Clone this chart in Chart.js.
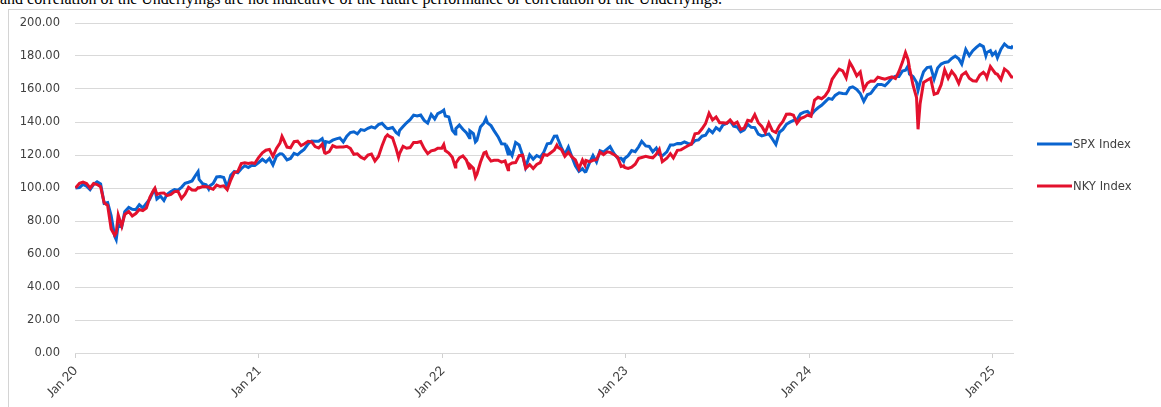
<!DOCTYPE html>
<html>
<head>
<meta charset="utf-8">
<script src="https://cdn.jsdelivr.net/npm/chart.js@4.4.1/dist/chart.umd.min.js"></script>
<style>
  html, body { margin: 0; padding: 0; background: #ffffff; overflow: hidden; }
  body { width: 1161px; height: 407px; position: relative; }
  #caption { position: absolute; left: 0; top: -9px; font-family: "Liberation Serif", "Times New Roman", serif; font-size: 16px; line-height: 16px; color: #000; white-space: nowrap; }
  #frame { position: absolute; left: 8px; top: 9px; width: 1200px; height: 450px; border-left: 1px solid #d4d4d4; border-top: 1px solid #d4d4d4; }
  #c { position: absolute; left: 0; top: 0; }
</style>
</head>
<body>
<div id="caption">and correlation of the Underlyings are not indicative of the future performance or correlation of the Underlyings.</div>
<div id="frame"></div>
<canvas id="c" width="1161" height="407"></canvas>
<script>
// ---- data (rebased to 100) ----
const seriesNames = ["SPX Index", "NKY Index"];
const tickDates = ["2020-01-01", "2021-01-01", "2022-01-01", "2023-01-01", "2024-01-01", "2025-01-01"];
const tickLabels = ["Jan 20", "Jan 21", "Jan 22", "Jan 23", "Jan 24", "Jan 25"];
const rangeEnd = "2025-02-10";

const dates = [
"2020-01-02","2020-01-10","2020-01-17","2020-01-24","2020-01-31","2020-02-07","2020-02-14","2020-02-21","2020-02-28","2020-03-06",
"2020-03-13","2020-03-20","2020-03-23","2020-03-27","2020-04-03","2020-04-09","2020-04-17","2020-04-24","2020-05-01","2020-05-08",
"2020-05-15","2020-05-22","2020-05-29","2020-06-05","2020-06-08","2020-06-12","2020-06-19","2020-06-26","2020-07-02","2020-07-10",
"2020-07-17","2020-07-24","2020-07-31","2020-08-07","2020-08-14","2020-08-21","2020-08-28","2020-09-02","2020-09-04","2020-09-11",
"2020-09-18","2020-09-23","2020-09-25","2020-10-02","2020-10-09","2020-10-16","2020-10-23","2020-10-30","2020-11-06","2020-11-13",
"2020-11-20","2020-11-27","2020-12-04","2020-12-11","2020-12-18","2020-12-24","2020-12-31",
"2021-01-08","2021-01-15","2021-01-22","2021-01-29","2021-02-05","2021-02-12","2021-02-16","2021-02-19","2021-02-26","2021-03-05",
"2021-03-12","2021-03-19","2021-03-26","2021-04-01","2021-04-09","2021-04-16","2021-04-23","2021-04-30","2021-05-07","2021-05-12",
"2021-05-14","2021-05-21","2021-05-28","2021-06-04","2021-06-11","2021-06-18","2021-06-25","2021-07-02","2021-07-09","2021-07-16",
"2021-07-23","2021-07-30","2021-08-06","2021-08-13","2021-08-20","2021-08-27","2021-09-03","2021-09-10","2021-09-14","2021-09-17",
"2021-09-24","2021-10-01","2021-10-06","2021-10-08","2021-10-15","2021-10-22","2021-10-29","2021-11-05","2021-11-12","2021-11-19",
"2021-11-26","2021-12-03","2021-12-10","2021-12-17","2021-12-23","2021-12-31",
"2022-01-04","2022-01-07","2022-01-14","2022-01-21","2022-01-27","2022-01-28","2022-02-04","2022-02-11","2022-02-18","2022-02-24",
"2022-02-25","2022-03-04","2022-03-08","2022-03-11","2022-03-18","2022-03-25","2022-03-29","2022-04-01","2022-04-08","2022-04-14",
"2022-04-22","2022-04-29","2022-05-06","2022-05-12","2022-05-13","2022-05-20","2022-05-27","2022-06-03","2022-06-10","2022-06-16",
"2022-06-24","2022-07-01","2022-07-08","2022-07-15","2022-07-22","2022-07-29","2022-08-05","2022-08-12","2022-08-17","2022-08-19",
"2022-08-26","2022-09-02","2022-09-09","2022-09-16","2022-09-23","2022-09-30","2022-10-07","2022-10-12","2022-10-14","2022-10-21",
"2022-10-28","2022-11-04","2022-11-11","2022-11-18","2022-11-25","2022-12-01","2022-12-09","2022-12-16","2022-12-23","2022-12-28",
"2022-12-30",
"2023-01-06","2023-01-13","2023-01-20","2023-01-27","2023-02-02","2023-02-10","2023-02-17","2023-02-24","2023-03-03","2023-03-09",
"2023-03-15","2023-03-24","2023-03-31","2023-04-06","2023-04-14","2023-04-21","2023-04-28","2023-05-05","2023-05-12","2023-05-19",
"2023-05-26","2023-06-02","2023-06-09","2023-06-16","2023-06-23","2023-06-30","2023-07-07","2023-07-14","2023-07-21","2023-07-28",
"2023-08-04","2023-08-11","2023-08-18","2023-08-25","2023-09-01","2023-09-08","2023-09-15","2023-09-22","2023-09-29","2023-10-06",
"2023-10-13","2023-10-20","2023-10-27","2023-11-03","2023-11-10","2023-11-17","2023-11-24","2023-12-01","2023-12-08","2023-12-15",
"2023-12-22","2023-12-29",
"2024-01-05","2024-01-12","2024-01-19","2024-01-26","2024-02-02","2024-02-09","2024-02-16","2024-02-22","2024-03-01","2024-03-08",
"2024-03-15","2024-03-22","2024-03-28","2024-04-05","2024-04-12","2024-04-19","2024-04-26","2024-05-03","2024-05-10","2024-05-17",
"2024-05-24","2024-05-31","2024-06-07","2024-06-14","2024-06-21","2024-06-28","2024-07-05","2024-07-11","2024-07-16","2024-07-19",
"2024-07-26","2024-08-02","2024-08-05","2024-08-09","2024-08-16","2024-08-23","2024-08-30","2024-09-06","2024-09-13","2024-09-20",
"2024-09-27","2024-10-04","2024-10-11","2024-10-18","2024-10-25","2024-10-31","2024-11-08","2024-11-15","2024-11-22","2024-11-29",
"2024-12-06","2024-12-13","2024-12-18","2024-12-20","2024-12-27","2024-12-31",
"2025-01-06","2025-01-10","2025-01-17","2025-01-24","2025-01-31","2025-02-07","2025-02-10"
];

const spxValues = [
100.0,100.2,102.2,101.1,99.0,102.2,103.7,102.5,90.7,91.2,
83.2,70.7,68.7,78.0,76.4,85.6,88.2,87.1,86.9,89.9,
87.9,90.7,93.4,98.0,99.2,93.3,95.1,92.4,96.1,97.8,
99.0,98.7,100.4,102.9,103.5,104.3,107.7,109.9,105.2,102.6,
101.9,99.4,101.2,102.8,106.7,106.9,106.4,100.4,107.7,110.0,
109.2,111.7,113.5,112.4,113.8,113.7,115.3,
117.4,115.7,117.9,114.0,119.3,120.8,120.7,119.9,117.0,117.9,
121.0,120.1,122.0,123.4,126.7,128.5,128.3,128.3,129.9,124.7,
128.1,127.6,129.0,129.8,130.4,127.9,131.4,133.6,134.1,132.8,
135.4,134.9,136.2,137.1,136.3,138.4,139.2,136.9,136.0,136.1,
136.7,133.7,132.5,134.8,137.2,139.5,141.4,144.2,143.7,144.2,
141.0,139.3,144.6,141.8,145.1,146.3,
147.2,143.6,143.1,135.0,132.8,136.0,138.2,135.6,133.5,130.5,
134.6,132.9,128.0,129.0,137.0,139.4,142.1,139.5,137.8,134.8,
131.1,126.8,126.6,120.6,123.5,119.7,127.6,126.1,119.7,112.6,
120.1,117.4,119.7,118.6,121.6,126.8,127.2,131.4,131.5,129.8,
124.6,120.4,124.8,118.9,113.4,110.1,111.7,109.8,110.0,115.2,
119.7,115.8,122.6,121.7,123.6,125.1,120.8,118.2,118.0,116.1,
117.9,
119.6,122.7,122.0,125.0,128.3,125.5,125.2,121.9,124.2,120.3,
119.5,121.9,126.1,126.0,127.0,126.9,128.0,127.0,126.6,128.7,
129.1,131.4,132.0,135.4,133.5,136.6,135.0,138.3,139.2,140.6,
137.5,137.0,134.1,135.2,138.6,136.8,136.6,132.6,131.6,132.2,
132.8,129.7,126.4,133.8,135.5,138.6,139.9,141.0,141.3,144.9,
146.0,146.4,
144.2,146.8,148.6,150.1,152.2,154.3,153.7,156.1,157.7,157.3,
157.1,160.7,161.3,159.7,157.3,152.5,156.5,157.4,160.3,162.8,
162.8,162.0,164.1,166.7,167.7,167.6,170.9,171.4,174.0,169.0,
167.6,164.1,159.2,164.0,170.5,173.0,173.4,166.0,172.7,175.1,
176.1,176.5,178.5,180.0,178.3,175.1,184.0,180.2,183.2,185.2,
186.9,185.7,180.2,182.1,183.3,180.5,
182.4,178.9,184.1,187.3,185.4,185.0,186.2
];

const nkyValues = [
100.0,102.8,103.6,102.7,100.0,102.7,102.1,100.8,91.1,89.4,
75.1,71.3,72.8,83.6,76.8,84.0,85.7,83.0,84.5,87.0,
86.3,87.9,94.3,98.5,99.9,96.1,96.9,97.0,95.4,96.1,
97.8,98.0,93.6,96.2,100.4,98.8,98.6,100.2,100.0,100.9,
100.7,100.6,100.0,99.2,101.8,100.9,101.3,99.0,104.8,109.4,
110.0,114.8,115.3,114.9,115.3,114.9,118.3,
121.3,122.9,123.4,119.2,124.0,127.2,131.3,129.4,124.8,124.4,
128.1,128.4,125.7,126.7,128.3,127.9,125.1,124.2,126.5,121.3,
121.0,122.0,125.6,124.7,124.8,124.8,125.3,124.0,120.4,120.7,
118.7,117.6,119.9,120.6,116.4,119.1,125.5,130.9,132.2,131.4,
130.4,124.0,118.6,120.9,125.3,124.1,124.5,127.6,127.6,128.2,
123.9,120.8,122.5,123.0,124.1,124.1,
126.3,122.7,121.2,118.6,112.8,115.1,118.3,119.4,116.9,111.9,
114.1,112.0,106.5,108.4,115.6,121.3,121.8,119.2,116.3,116.8,
116.8,115.7,116.4,111.0,113.9,115.2,115.4,119.6,119.9,111.9,
114.2,111.8,114.3,115.4,120.3,119.8,121.4,123.0,125.9,124.7,
123.4,119.2,121.6,118.8,117.0,111.8,116.9,113.8,116.7,115.9,
116.8,117.2,121.8,120.2,121.9,121.6,120.2,118.6,113.1,113.5,
112.5,
111.9,112.6,114.4,118.0,118.5,119.2,118.6,118.3,120.4,123.4,
115.9,118.0,120.8,118.2,122.8,123.1,124.4,125.6,126.6,132.8,
133.2,135.9,139.0,145.3,141.3,143.0,139.6,139.6,139.2,141.2,
138.7,139.9,135.5,136.3,141.0,140.5,144.5,139.6,137.3,133.6,
139.3,134.7,133.6,137.7,140.3,144.7,144.9,144.1,139.2,142.1,
142.9,144.2,
143.5,153.3,155.0,154.1,155.8,159.0,165.9,168.5,172.0,171.0,
166.8,176.2,173.1,168.0,170.3,159.7,163.5,164.8,164.7,167.2,
166.5,165.9,166.7,167.3,166.3,170.6,176.3,182.0,177.9,172.7,
162.3,154.8,135.6,150.9,164.0,165.3,166.5,156.8,157.6,162.6,
171.6,166.5,170.7,168.0,163.4,168.4,170.2,166.5,165.0,164.7,
168.5,170.1,168.4,166.8,173.6,171.9,
169.4,168.9,165.7,172.1,170.5,167.2,167.2
];

const seriesColors = ["#0a64cf", "#e3112d"];

// ---- helpers ----
const dayIndex = s => {
  const [y, m, d] = s.split("-").map(Number);
  return Math.round((Date.UTC(y, m - 1, d) - Date.UTC(2020, 0, 1)) / 86400000);
};
const tickValues = tickDates.map(dayIndex);

const legendPlugin = {
  id: "sideLegend",
  afterDraw(chart) {
    const ctx = chart.ctx;
    const x0 = 1037, lineLen = 35, y0 = 144, gap = 42;
    ctx.save();
    chart.data.datasets.forEach((ds, i) => {
      const y = y0 + i * gap;
      ctx.strokeStyle = ds.borderColor;
      ctx.lineWidth = 3;
      ctx.beginPath();
      ctx.moveTo(x0, y);
      ctx.lineTo(x0 + lineLen, y);
      ctx.stroke();
      ctx.fillStyle = "#404040";
      ctx.font = "11.6px 'DejaVu Sans'";
      ctx.textAlign = "left";
      ctx.textBaseline = "middle";
      ctx.fillText(ds.label, x0 + lineLen + 1, y + 0.5);
    });
    ctx.restore();
  }
};

new Chart(document.getElementById("c"), {
  type: "line",
  data: {
    datasets: [
      {
        label: seriesNames[0],
        data: dates.map((d, i) => ({ x: dayIndex(d), y: spxValues[i] })),
        borderColor: seriesColors[0],
        backgroundColor: seriesColors[0],
        borderWidth: 3,
        pointRadius: 0,
        tension: 0,
        order: 1
      },
      {
        label: seriesNames[1],
        data: dates.map((d, i) => ({ x: dayIndex(d), y: nkyValues[i] })),
        borderColor: seriesColors[1],
        backgroundColor: seriesColors[1],
        borderWidth: 3,
        pointRadius: 0,
        tension: 0,
        order: 0
      }
    ]
  },
  options: {
    responsive: false,
    animation: false,
    devicePixelRatio: 1,
    layout: { padding: { top: 23, left: 0, right: 148, bottom: 0 } },
    plugins: { legend: { display: false }, tooltip: { enabled: false } },
    scales: {
      x: {
        type: "linear",
        min: 0,
        max: dayIndex(rangeEnd),
        afterBuildTicks: scale => { scale.ticks = tickValues.map(v => ({ value: v })); },
        afterFit: scale => { scale.height = 54; },
        ticks: {
          autoSkip: false,
          minRotation: 45,
          maxRotation: 45,
          padding: 5,
          color: "#404040",
          font: { family: "Lato", size: 13 },
          callback: (v, i) => tickLabels[i]
        },
        grid: { drawOnChartArea: false, drawTicks: true, tickLength: 5, color: "#d0d0d0" },
        border: { display: true, color: "#d9d9d9", width: 1 }
      },
      y: {
        min: 0,
        max: 200,
        afterFit: scale => { scale.width = 75; },
        ticks: {
          stepSize: 20,
          padding: 15,
          color: "#404040",
          font: { family: "DejaVu Sans", size: 11.5 },
          callback: v => Number(v).toFixed(2)
        },
        grid: { drawTicks: false, color: "#d9d9d9", lineWidth: 1 },
        border: { display: false }
      }
    }
  },
  plugins: [legendPlugin]
});
</script>
</body>
</html>
